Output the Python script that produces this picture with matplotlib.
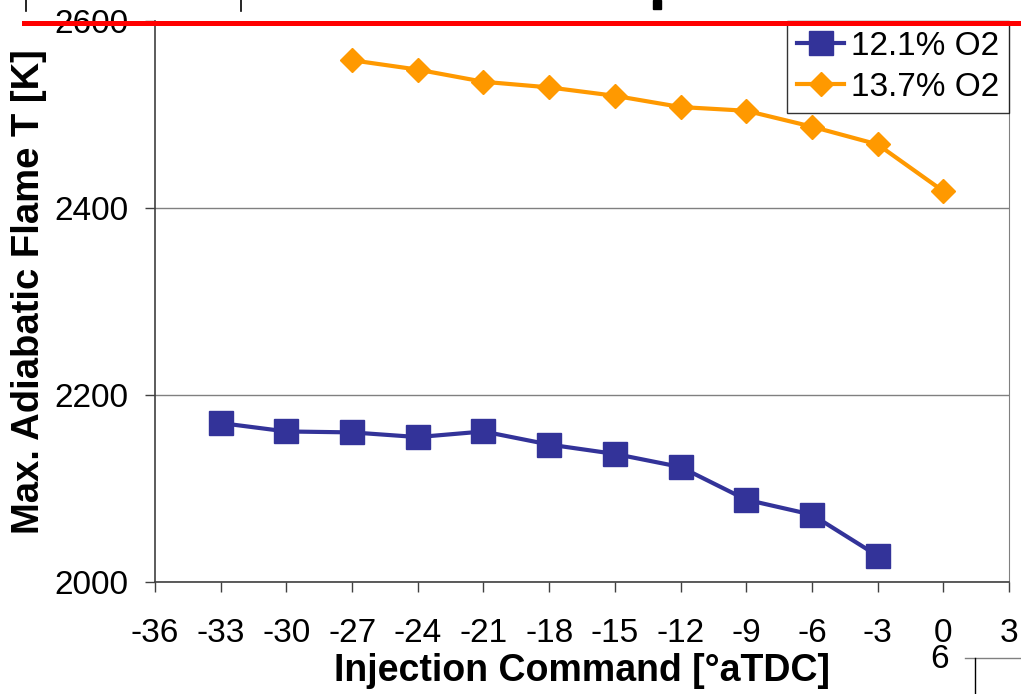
import matplotlib
matplotlib.use("Agg")
import matplotlib.pyplot as plt
from matplotlib.lines import Line2D
from matplotlib.patches import Rectangle

plt.rcParams['font.family'] = ['Liberation Sans', 'DejaVu Sans']

# Data
x_121 = [-33, -30, -27, -24, -21, -18, -15, -12, -9, -6, -3]
t_121 = [2170, 2161, 2160, 2155, 2161, 2147, 2137, 2123, 2088, 2072, 2028]
x_137 = [-27, -24, -21, -18, -15, -12, -9, -6, -3, 0]
t_137 = [2558, 2548, 2535, 2529, 2520, 2508, 2504, 2487, 2468, 2418]
labels = ['12.1% O2', '13.7% O2']
xticks = list(range(-36, 4, 3))
yticks = [2000, 2200, 2400, 2600]

W, H = 1021, 694
fig = plt.figure(figsize=(W / 100, H / 100), dpi=100)
ax = fig.add_axes([155 / W, 1 - 582 / H, (1009 - 155) / W, (582 - 21) / H])

blue = '#333399'
orange = '#FF9900'
ax.plot(x_121, t_121, color=blue, lw=3, marker='s', ms=17, mec=blue, mfc=blue,
        label=labels[0], zorder=3, clip_on=False)
ax.plot(x_137, t_137, color=orange, lw=3, marker='D', ms=12.2, mec=orange, mfc=orange,
        label=labels[1], zorder=3, clip_on=False)

ax.set_xlim(-36, 3)
ax.set_ylim(2000, 2600)
ax.set_xticks(xticks)
ax.set_xticklabels([str(v) for v in xticks])
ax.set_yticks(yticks)
ax.set_yticklabels([str(v) for v in yticks])
ax.tick_params(axis='both', labelsize=24, direction='out', length=7, width=1, color='#404040')
ax.tick_params(axis='x', pad=19)
ax.tick_params(axis='y', pad=12)
ax.grid(axis='y', color='#808080', lw=1)
ax.set_axisbelow(True)
for s in ['left', 'bottom']:
    ax.spines[s].set_color('#404040')
    ax.spines[s].set_linewidth(1.2)
ax.spines['right'].set_color('#808080')
ax.spines['top'].set_visible(False)

ax.set_xlabel('Injection Command [°aTDC]', fontsize=27, fontweight='bold', labelpad=3)
ax.set_ylabel('Max. Adiabatic Flame T [K]', fontsize=27.5, fontweight='bold')
ax.yaxis.set_label_coords(-(155 - 47) / (1009 - 155), (582 - 292) / (582 - 21))

leg = ax.legend(loc='upper right', bbox_to_anchor=(1.0, 1.0), borderaxespad=0,
                fontsize=24, frameon=True, fancybox=False, handlelength=1.4,
                handletextpad=0.2, borderpad=0.3, labelspacing=0.3)
leg.get_frame().set_edgecolor('black')
leg.get_frame().set_linewidth(1)
leg.set_zorder(5)

# Red reference line across the figure
fig.add_artist(Line2D([24 / W, 1.0], [1 - 23 / H, 1 - 23 / H], color='#FF0000', lw=3.6))

# Fragments from surrounding context
fig.add_artist(Line2D([26 / W, 26 / W], [1, 1 - 11 / H], color='black', lw=1.2))
fig.add_artist(Line2D([241 / W, 241 / W], [1, 1 - 11 / H], color='black', lw=1.2))
fig.add_artist(Rectangle((653 / W, 1 - 9 / H), 8 / W, 9 / H, color='black', transform=fig.transFigure))
fig.text(940 / W, 1 - 659 / H, '6', fontsize=24, ha='center', va='center')
fig.add_artist(Line2D([965 / W, 1.0], [1 - 658 / H, 1 - 658 / H], color='#808080', lw=1))
fig.add_artist(Line2D([975 / W, 975 / W], [1 - 658 / H, 0], color='black', lw=1))

fig.savefig('out.png', dpi=100)
